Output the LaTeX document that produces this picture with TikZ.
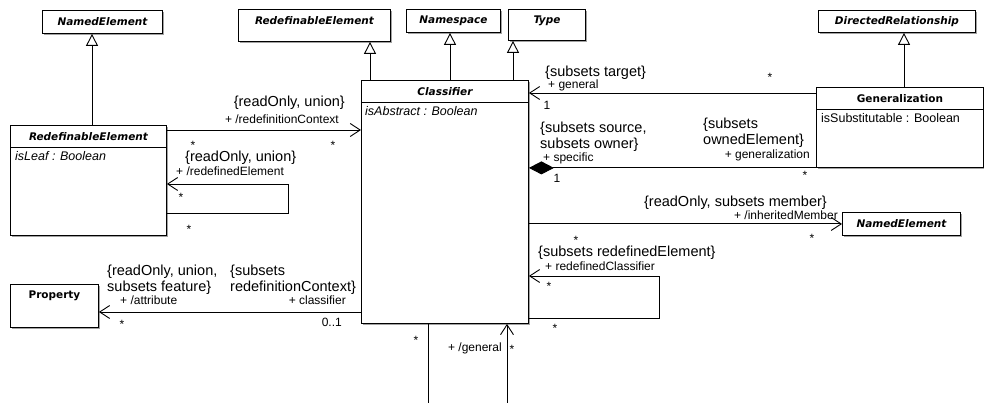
\documentclass[tikz,border=0pt]{standalone}
\usepackage{fontspec}
\setmainfont{Liberation Sans}
\newfontfamily\clsfont{DejaVu Sans}
\usetikzlibrary{arrows.meta,shadows}
\definecolor{shade}{HTML}{7A7A7A}
\tikzset{
cls/.style={draw,fill=white,line width=0.9pt,inner sep=0pt,anchor=north west,drop shadow={shadow xshift=1.6pt,shadow yshift=-1.6pt,fill=shade,opacity=0.7}},
ttl/.style={font=\clsfont\fontsize{10.5}{12}\selectfont\bfseries\itshape,inner sep=0pt},
ttlup/.style={font=\clsfont\fontsize{10.5}{12}\selectfont\bfseries,inner sep=0pt},
attr/.style={font=\fontsize{12.5}{14}\selectfont,inner sep=0pt,anchor=west},
cons/.style={font=\fontsize{14.5}{16}\selectfont,inner sep=0pt,align=left},
role/.style={font=\fontsize{12}{13}\selectfont,inner sep=0pt},
mult/.style={font=\fontsize{12}{13}\selectfont,inner sep=0pt},
conn/.style={line width=0.9pt},
nav/.style={conn,-{Straight Barb[length=10pt,width=13pt]}},
inh/.style={conn,-{Triangle[open,length=12pt,width=12pt]}},
comp/.style={conn,{Diamond[length=25pt,width=13pt]}-}
}
\begin{document}
\begin{tikzpicture}[x=1pt,y=-1pt]
\useasboundingbox (0,0) rectangle (984,403);
\node[cls,minimum width=120pt,minimum height=23pt] (neA) at (42,10) {};
\node[cls,minimum width=152pt,minimum height=32pt] (reA) at (238,9) {};
\node[cls,minimum width=94pt,minimum height=23pt] (ns) at (406,9) {};
\node[cls,minimum width=77pt,minimum height=31pt] (typ) at (508,9) {};
\node[cls,minimum width=157pt,minimum height=22pt] (drel) at (818,10) {};
\node[cls,minimum width=156pt,minimum height=110pt] (reL) at (10,125) {};
\node[cls,minimum width=167pt,minimum height=243pt] (clsf) at (361,80) {};
\node[cls,minimum width=167pt,minimum height=80pt] (gen) at (816,87) {};
\node[cls,minimum width=118pt,minimum height=23pt] (neR) at (842,212) {};
\node[cls,minimum width=88pt,minimum height=43pt] (prop) at (10,284) {};
\node[ttl] (neA-t) at ([yshift=-11.5pt]neA.north) {NamedElement};
\node[ttl] (reA-t) at ([yshift=-11.5pt]reA.north) {RedefinableElement};
\node[ttl] (ns-t) at ([yshift=-11.5pt]ns.north) {Namespace};
\node[ttl] (typ-t) at ([yshift=-11.5pt]typ.north) {Type};
\node[ttl] (drel-t) at ([yshift=-11.5pt]drel.north) {DirectedRelationship};
\node[ttl] (reL-t) at ([yshift=-11.5pt]reL.north) {RedefinableElement};
\node[ttl] (clsf-t) at ([yshift=-11.5pt]clsf.north) {Classifier};
\node[ttlup] (gen-t) at ([yshift=-11.5pt]gen.north) {Generalization};
\node[ttl] (neR-t) at ([yshift=-11.5pt]neR.north) {NamedElement};
\node[ttlup] (prop-t) at ([yshift=-11.5pt]prop.north) {Property};
\foreach \c in {reL,clsf,gen}{\draw[conn] ([yshift=-22pt]\c.north west) -- ([yshift=-22pt]\c.north east);}
\node[attr] (reL-a) at ([xshift=5pt,yshift=-31pt]reL.north west) {\itshape isLeaf : Boolean};
\node[attr] (clsf-a) at ([xshift=4pt,yshift=-31pt]clsf.north west) {\itshape isAbstract : Boolean};
\node[attr] (gen-a) at ([xshift=5pt,yshift=-31pt]gen.north west) {isSubstitutable : Boolean};
\coordinate (xA) at (92,0); \coordinate (xB) at (370,0); \coordinate (xC) at (450,0);
\coordinate (xD) at (513,0); \coordinate (xE) at (904,0);
\coordinate (yRC) at (0,130); \coordinate (yGN) at (0,93); \coordinate (yAT) at (0,312);
\coordinate (lpA) at (288,184); \coordinate (lpB) at (288,213);
\coordinate (lpC) at (659,276); \coordinate (lpD) at (659,318);
\coordinate (bL) at (428,405); \coordinate (bR) at (507,405);
\draw[inh] (reL.north -| xA) -- (neA.south -| xA);
\draw[inh] (clsf.north -| xB) -- (reA.south -| xB);
\draw[inh] (clsf.north -| xC) -- (ns.south -| xC);
\draw[inh] (clsf.north -| xD) -- (typ.south -| xD);
\draw[inh] (gen.north -| xE) -- (drel.south -| xE);
\draw[nav] (reL.east |- yRC) -- (clsf.west |- yRC);
\draw[nav] (reL.east |- lpB) -- (lpB) -- (lpA) -- (reL.east |- lpA);
\draw[nav] (gen.west |- yGN) -- (clsf.east |- yGN);
\draw[comp] (clsf.east |- gen.south west) -- (gen.south west);
\draw[nav] (clsf.east |- neR.west) -- (neR.west);
\draw[nav] (clsf.east |- lpD) -- (lpD) -- (lpC) -- (clsf.east |- lpC);
\draw[nav] (clsf.west |- yAT) -- (prop.east |- yAT);
\draw[conn] (clsf.south -| bL) -- (bL);
\draw[nav] (bR) -- (clsf.south -| bR);
\node[cons,anchor=east] (rc-c) at (345,103) {\{readOnly, union\}};
\node[role,anchor=east] (rc-r) at (339,119) {+ /redefinitionContext};
\node[mult] (rc-m1) at (333,145) {*};
\node[mult] (rc-m2) at (193,145) {*};
\node[cons,anchor=west] (rd-c) at (185,158) {\{readOnly, union\}};
\node[role,anchor=west] (rd-r) at (176,171) {+ /redefinedElement};
\node[mult] (rd-m1) at (181,197) {*};
\node[mult] (rd-m2) at (189,229) {*};
\node[cons,anchor=west] (gl-c) at (545,73) {\{subsets target\}};
\node[role,anchor=west] (gl-r) at (548,85) {+ general};
\node[mult] (gl-m1) at (547,105) {1};
\node[mult] (gl-m2) at (770,77) {*};
\node[cons,anchor=west] (sp-c) at (540,137) {\{subsets source,\\subsets owner\}};
\node[role,anchor=west] (sp-r) at (543,158) {+ specific};
\node[mult] (sp-m) at (557,178) {1};
\node[cons,anchor=west] (gz-c) at (703,133) {\{subsets\\ownedElement\}};
\node[role,anchor=east] (gz-r) at (810,155) {+ generalization};
\node[mult] (gz-m) at (805,175) {*};
\node[cons,anchor=east] (im-c) at (827,203) {\{readOnly, subsets member\}};
\node[role,anchor=east] (im-r) at (838,215) {+ /inheritedMember};
\node[mult] (im-m) at (812,238) {*};
\node[mult] (rf-m1) at (576,240) {*};
\node[cons,anchor=west] (rf-c) at (538,253) {\{subsets redefinedElement\}};
\node[role,anchor=west] (rf-r) at (545,266) {+ redefinedClassifier};
\node[mult] (rf-m2) at (549,286) {*};
\node[mult] (rf-m3) at (555,328) {*};
\node[mult] (bg-m1) at (416,340) {*};
\node[role,anchor=east] (bg-r) at (502,348) {+ /general};
\node[mult] (bg-m2) at (512,349) {*};
\node[cons,anchor=west] (at-c) at (107,280) {\{readOnly, union,\\subsets feature\}};
\node[role,anchor=west] (at-r) at (120,300) {+ /attribute};
\node[mult] (at-m) at (122,324) {*};
\node[cons,anchor=west] (cf-c) at (230,280) {\{subsets\\redefinitionContext\}};
\node[role,anchor=east] (cf-r) at (346,300) {+ classifier};
\node[mult,anchor=east] (cf-m) at (342,322) {0..1};
\end{tikzpicture}
\end{document}
